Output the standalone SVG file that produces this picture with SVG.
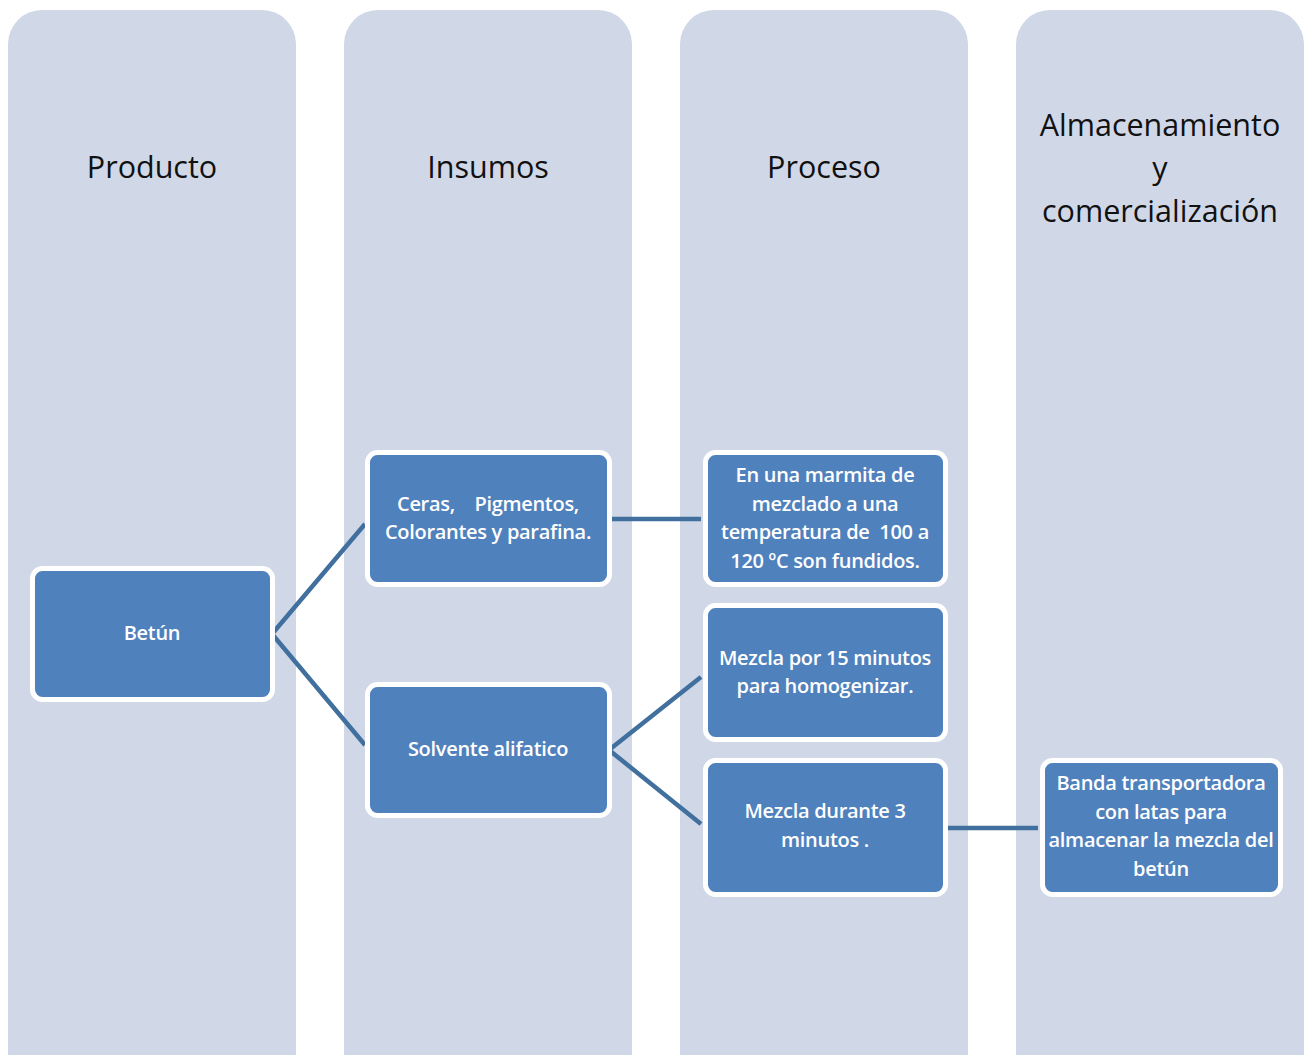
<svg xmlns="http://www.w3.org/2000/svg" width="1306" height="1055" viewBox="0 0 1306 1055">
  <style>
    .lane { fill: #D0D8E8; }
    .lane-title { font-family: "Open Sans", "Noto Sans", sans-serif; font-size: 30.5px; fill: #111111; text-anchor: middle; }
    .box { fill: #4F81BD; stroke: #FFFFFF; stroke-width: 5; }
    .box-text { font-family: "Open Sans", "Noto Sans", sans-serif; font-weight: 600; font-size: 20px; fill: #FFFFFF; text-anchor: middle; letter-spacing: -0.3px; }
    .link { stroke: #41709F; stroke-width: 4.5; fill: none; }
  </style>

  <!-- Swimlane columns -->
  <g id="lanes">
    <g id="lane-producto">
      <rect class="lane" x="8" y="10" width="288" height="1085" rx="34"/>
      <text class="lane-title" x="152" y="178">Producto</text>
    </g>
    <g id="lane-insumos">
      <rect class="lane" x="344" y="10" width="288" height="1085" rx="34"/>
      <text class="lane-title" x="488" y="178">Insumos</text>
    </g>
    <g id="lane-proceso">
      <rect class="lane" x="680" y="10" width="288" height="1085" rx="34"/>
      <text class="lane-title" x="824" y="178">Proceso</text>
    </g>
    <g id="lane-almacenamiento">
      <rect class="lane" x="1016" y="10" width="288" height="1085" rx="34"/>
      <text class="lane-title" x="1160" y="136">Almacenamiento</text>
      <text class="lane-title" x="1160" y="179">y</text>
      <text class="lane-title" x="1160" y="222">comercialización</text>
    </g>
  </g>

  <!-- Connectors -->
  <g id="connectors">
    <polyline class="link" points="365,524 272,634 365,745"/>
    <line class="link" x1="609" y1="519" x2="701" y2="519"/>
    <polyline class="link" points="701,677 609,750 701,824"/>
    <line class="link" x1="945" y1="828" x2="1038" y2="828"/>
  </g>

  <!-- Nodes -->
  <g id="node-betun">
    <rect class="box" x="32.5" y="568.5" width="240" height="131" rx="10"/>
    <text class="box-text" x="152" y="640">Betún</text>
  </g>
  <g id="node-ceras">
    <rect class="box" x="367.5" y="452.5" width="242" height="132" rx="10"/>
    <text class="box-text" x="488" y="511" xml:space="preserve">Ceras,    Pigmentos,</text>
    <text class="box-text" x="488" y="539">Colorantes y parafina.</text>
  </g>
  <g id="node-solvente">
    <rect class="box" x="367.5" y="684.5" width="242" height="131" rx="10"/>
    <text class="box-text" x="488" y="756">Solvente alifatico</text>
  </g>
  <g id="node-marmita">
    <rect class="box" x="705.5" y="452.5" width="240" height="132" rx="10"/>
    <text class="box-text" x="825" y="482">En una marmita de</text>
    <text class="box-text" x="825" y="511">mezclado a una</text>
    <text class="box-text" x="825" y="539" xml:space="preserve">temperatura de  100 a</text>
    <text class="box-text" x="825" y="568">120 ºC son fundidos.</text>
  </g>
  <g id="node-mezcla15">
    <rect class="box" x="705.5" y="605.5" width="240" height="134" rx="10"/>
    <text class="box-text" x="825" y="665">Mezcla por 15 minutos</text>
    <text class="box-text" x="825" y="693">para homogenizar.</text>
  </g>
  <g id="node-mezcla3">
    <rect class="box" x="705.5" y="760.5" width="240" height="134" rx="10"/>
    <text class="box-text" x="825" y="818">Mezcla durante 3</text>
    <text class="box-text" x="825" y="847">minutos .</text>
  </g>
  <g id="node-banda">
    <rect class="box" x="1042.5" y="760.5" width="238" height="134" rx="10"/>
    <text class="box-text" x="1161" y="790">Banda transportadora</text>
    <text class="box-text" x="1161" y="819">con latas para</text>
    <text class="box-text" x="1161" y="847">almacenar la mezcla del</text>
    <text class="box-text" x="1161" y="876">betún</text>
  </g>
</svg>
